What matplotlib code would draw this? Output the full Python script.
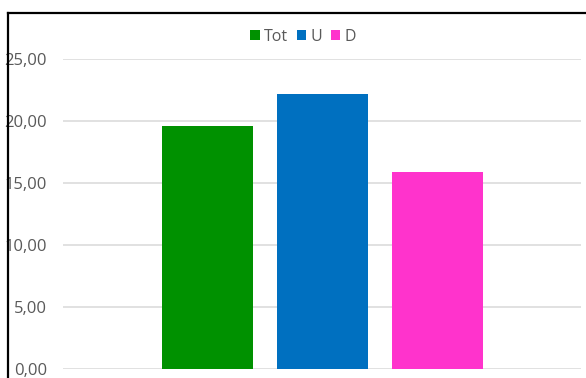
import matplotlib
matplotlib.use("Agg")
import matplotlib.pyplot as plt
from matplotlib.lines import Line2D
from matplotlib.patches import Patch

series = ["Tot", "U", "D"]
values = [19.6, 22.2, 15.85]
colors = ["#009100", "#0070C0", "#FF33CC"]
yticks = [0, 5, 10, 15, 20, 25]
ytick_labels = ["0,00", "5,00", "10,00", "15,00", "20,00", "25,00"]

W, H = 586, 378
fig = plt.figure(figsize=(W / 100, H / 100), dpi=100)
fig.patch.set_facecolor("white")

ax_left, ax_right = 63, 581
ax_bottom, ax_top = 368.7, 59
ax = fig.add_axes([ax_left / W, (H - ax_bottom) / H, (ax_right - ax_left) / W, (ax_bottom - ax_top) / H])

positions = [0, 1, 2]
ax.bar(positions, values, width=0.79, color=colors, zorder=3)
ax.set_xlim(-1.257, 3.248)
ax.set_ylim(0, 25)
ax.set_yticks(yticks)
ax.set_yticklabels(ytick_labels)
ax.set_xticks([])
ax.yaxis.grid(True, color="#DCDCDC", linewidth=1.2, zorder=0)
ax.set_axisbelow(True)
for s in ax.spines.values():
    s.set_visible(False)
ax.tick_params(axis="y", length=0, pad=11.5, labelsize=12, labelcolor="#595959")
for lbl in ax.get_yticklabels():
    lbl.set_fontfamily("Open Sans")

handles = [Patch(facecolor=c, edgecolor="none") for c in colors]
fig.legend(handles, series, loc="center", bbox_to_anchor=(303 / W, 1 - 37 / H),
           ncol=3, frameon=False, handlelength=0.6, handleheight=0.6,
           handletextpad=0.25, columnspacing=0.55,
           prop={"family": "Open Sans", "size": 11.5}, labelcolor="#595959")

# black border lines (top and left)
fig.add_artist(Line2D([7.5 / W, 7.5 / W], [0, 1 - 12.5 / H], color="black", linewidth=1.6,
                      transform=fig.transFigure, solid_capstyle="projecting"))
fig.add_artist(Line2D([7.5 / W, 1.0], [1 - 12.5 / H, 1 - 12.5 / H], color="black", linewidth=1.6,
                      transform=fig.transFigure, solid_capstyle="projecting"))

fig.savefig("out.png", dpi=100, facecolor="white")
